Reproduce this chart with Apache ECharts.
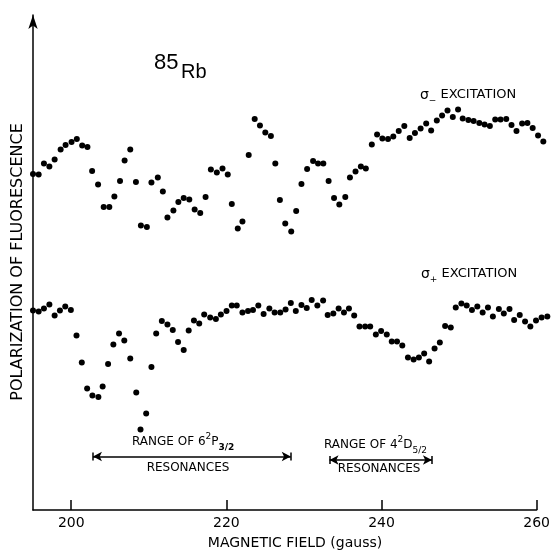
<!DOCTYPE html>
<html>
<head>
<meta charset="utf-8">
<title>85Rb polarization of fluorescence</title>
<script src="https://cdn.jsdelivr.net/npm/echarts@6/dist/echarts.min.js"></script>
<style>
  html, body { margin: 0; padding: 0; background: #fff; }
  #chart { width: 553px; height: 553px; }
</style>
</head>
<body>
<div id="chart"></div>
<script>
// Magnetic field (gauss) and polarization (arb. units) for sigma-minus excitation
var fieldMinus = [195.07,195.80,196.48,197.18,197.86,198.63,199.27,200.04,200.72,201.41,202.09,202.69,203.46,204.18,204.91,205.56,206.29,206.88,207.61,208.34,208.98,209.75,210.34,211.16,211.81,212.40,213.17,213.81,214.50,215.22,215.91,216.63,217.32,218.00,218.77,219.50,220.18,220.70,221.47,222.07,222.88,223.65,224.33,225.02,225.74,226.31,226.90,227.59,228.36,229.00,229.68,230.41,231.18,231.82,232.50,233.18,233.88,234.56,235.33,235.93,236.65,237.34,237.98,238.75,239.43,240.11,240.84,241.52,242.22,242.94,243.63,244.31,245.04,245.76,246.40,247.13,247.81,248.51,249.19,249.87,250.47,251.20,251.88,252.61,253.29,253.97,254.66,255.35,256.08,256.76,257.40,258.13,258.81,259.49,260.18,260.86];
var polMinus = [67.2,67.1,69.3,68.7,70.1,72.1,73.0,73.6,74.2,72.9,72.6,67.8,65.1,60.6,60.6,62.7,65.8,69.9,72.1,65.6,56.9,56.6,65.5,66.5,63.7,58.5,59.9,61.6,62.4,62.1,60.1,59.4,62.6,68.1,67.5,68.3,67.1,61.2,56.3,57.7,71.0,78.2,76.9,75.5,74.8,69.3,62.0,57.3,55.7,59.8,65.2,68.2,69.8,69.3,69.3,65.8,62.4,61.1,62.6,66.5,67.7,68.7,68.3,73.1,75.1,74.3,74.2,74.7,75.8,76.8,74.4,75.4,76.3,77.3,75.9,77.9,78.9,79.9,78.6,80.1,78.3,78.0,77.8,77.4,77.1,76.8,78.1,78.1,78.2,77.0,75.8,77.3,77.4,76.4,74.9,73.7];

// Magnetic field (gauss) and polarization (arb. units) for sigma-plus excitation
var fieldPlus = [195.07,195.80,196.48,197.18,197.86,198.54,199.23,199.95,200.68,201.36,202.05,202.73,203.50,204.05,204.75,205.43,206.16,206.84,207.61,208.38,208.93,209.66,210.34,210.95,211.68,212.40,213.09,213.77,214.50,215.14,215.82,216.50,217.14,217.91,218.65,219.29,220.02,220.70,221.34,222.07,222.79,223.43,224.12,224.80,225.54,226.22,226.95,227.63,228.31,228.95,229.68,230.36,231.00,231.73,232.47,233.06,233.79,234.47,235.16,235.80,236.48,237.16,237.89,238.54,239.27,239.95,240.68,241.32,242.00,242.68,243.41,244.14,244.82,245.50,246.14,246.84,247.52,248.20,248.93,249.57,250.30,250.98,251.66,252.35,253.04,253.72,254.36,255.13,255.77,256.50,257.10,257.82,258.51,259.19,259.92,260.64,261.38];
var polPlus = [39.9,39.7,40.3,41.1,38.9,39.9,40.7,40.0,34.9,29.5,24.3,22.9,22.6,24.7,29.2,33.1,35.3,33.9,30.3,23.5,16.1,19.3,28.6,35.3,37.8,37.1,36.0,33.6,32.0,35.9,37.9,37.3,39.1,38.5,38.2,39.1,39.8,40.9,40.9,39.5,39.8,40.0,40.9,39.2,40.3,39.5,39.5,40.1,41.4,39.8,41.0,40.4,42.0,40.9,41.9,39.0,39.3,40.3,39.5,40.3,38.9,36.7,36.7,36.7,35.1,35.8,35.1,33.7,33.7,32.9,30.5,30.1,30.5,31.3,29.7,32.3,33.5,36.8,36.5,40.5,41.3,40.9,40.0,40.7,39.5,40.5,38.7,40.2,39.3,40.2,38.0,39.0,37.7,36.7,37.9,38.5,38.7];

// Field ticks and resonance ranges (gauss)
var fieldTicks = [200, 220, 240, 260];
var range6P = [202.8, 228.3];
var range4D = [233.3, 246.5];
var rangeLevel6P = 10.7;
var rangeLevel4D = 10.0;

function pairs(xs, ys) {
  return xs.map(function (x, i) { return [x, ys[i]]; });
}

var FONT = '"DejaVu Sans", sans-serif';
var INK = '#000';

function rangeLines(r, y) {
  var cap = 0.8;
  return [
    [{ coord: [r[0], y], symbol: 'arrow' }, { coord: [r[1], y], symbol: 'arrow' }],
    [{ coord: [r[0], y - cap], symbol: 'none' }, { coord: [r[0], y + cap], symbol: 'none' }],
    [{ coord: [r[1], y - cap], symbol: 'none' }, { coord: [r[1], y + cap], symbol: 'none' }]
  ];
}

var chart = echarts.init(document.getElementById('chart'), null, { renderer: 'canvas' });

var rich = {
  n: { fontFamily: FONT, fontSize: 12, color: INK, lineHeight: 20, verticalAlign: 'middle' },
  nx: { fontFamily: FONT, fontSize: 13, color: INK, lineHeight: 20, verticalAlign: 'middle' },
  sup: { fontFamily: FONT, fontSize: 9, color: INK, lineHeight: 20, verticalAlign: 'top' },
  sub: { fontFamily: FONT, fontSize: 9, color: INK, lineHeight: 20, verticalAlign: 'bottom' },
  subb: { fontFamily: FONT, fontSize: 9, fontWeight: 'bold', color: INK, lineHeight: 20, verticalAlign: 'bottom' },
  sig: { fontFamily: FONT, fontSize: 14, color: INK, lineHeight: 20, verticalAlign: 'middle' }
};

chart.setOption({
  animation: false,
  backgroundColor: '#fff',
  grid: { left: 33, right: 14, top: 15, bottom: 43 },
  xAxis: {
    type: 'value',
    min: 195.07,
    max: 260,
    axisLine: { show: true, onZero: false, lineStyle: { color: INK, width: 1.5 } },
    axisTick: { show: true, inside: true, length: 10, customValues: fieldTicks, lineStyle: { color: INK, width: 1.5 } },
    axisLabel: { show: true, customValues: fieldTicks, margin: 6, fontFamily: FONT, fontSize: 14, color: INK },
    splitLine: { show: false }
  },
  yAxis: {
    type: 'value',
    min: 0,
    max: 99,
    axisLine: { show: true, onZero: false, symbol: ['none', 'arrow'], symbolSize: [7, 14], lineStyle: { color: INK, width: 1.5 } },
    axisTick: { show: false },
    axisLabel: { show: false },
    splitLine: { show: false }
  },
  series: [
    {
      name: 'σ− excitation',
      type: 'scatter',
      clip: false,
      symbol: 'circle',
      symbolSize: 6,
      itemStyle: { color: INK, opacity: 1 },
      data: pairs(fieldMinus, polMinus)
    },
    {
      name: 'σ+ excitation',
      type: 'scatter',
      clip: false,
      symbol: 'circle',
      symbolSize: 6,
      itemStyle: { color: INK, opacity: 1 },
      data: pairs(fieldPlus, polPlus),
      markLine: {
        silent: true,
        symbolSize: [7, 9],
        label: { show: false },
        lineStyle: { color: INK, width: 1.5, type: 'solid', opacity: 1 },
        emphasis: { disabled: true },
        data: rangeLines(range6P, rangeLevel6P).concat(rangeLines(range4D, rangeLevel4D))
      }
    }
  ],
  graphic: [
    { type: 'text', left: 154, top: 52, style: { text: '85', font: '22px "Liberation Sans", sans-serif', fill: INK } },
    { type: 'text', left: 181, top: 62, style: { text: 'Rb', font: '20px "Liberation Sans", sans-serif', fill: INK } },
    {
      type: 'text', x: 420, y: 95,
      style: { text: '{sig|σ}{sub|−}{nx| EXCITATION}', rich: rich, verticalAlign: 'middle', align: 'left' }
    },
    {
      type: 'text', x: 421, y: 274,
      style: { text: '{sig|σ}{sub|+}{nx| EXCITATION}', rich: rich, verticalAlign: 'middle', align: 'left' }
    },
    {
      type: 'text', x: 132, y: 442,
      style: { text: '{n|RANGE OF 6}{sup|2}{n|P}{subb|3/2}', rich: rich, verticalAlign: 'middle', align: 'left' }
    },
    { type: 'text', x: 188, y: 468, style: { text: 'RESONANCES', font: '12px ' + FONT, fill: INK, align: 'center', verticalAlign: 'middle' } },
    {
      type: 'text', x: 324, y: 445,
      style: { text: '{n|RANGE OF 4}{sup|2}{n|D}{sub|5/2}', rich: rich, verticalAlign: 'middle', align: 'left' }
    },
    { type: 'text', x: 379, y: 469, style: { text: 'RESONANCES', font: '12px ' + FONT, fill: INK, align: 'center', verticalAlign: 'middle' } },
    { type: 'text', x: 295, y: 543, style: { text: 'MAGNETIC FIELD (gauss)', font: '14px ' + FONT, fill: INK, align: 'center', verticalAlign: 'middle' } },
    {
      type: 'text', x: 18, y: 262, rotation: Math.PI / 2,
      style: { text: 'POLARIZATION OF FLUORESCENCE', font: '16px ' + FONT, fill: INK, align: 'center', verticalAlign: 'middle' }
    }
  ]
});
</script>
</body>
</html>
